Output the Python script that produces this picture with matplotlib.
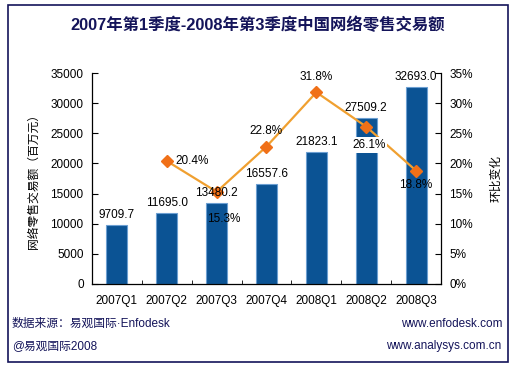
import matplotlib
matplotlib.use("Agg")
import matplotlib.pyplot as plt
from matplotlib.patches import Rectangle
from matplotlib.ticker import FuncFormatter

plt.rcParams['font.family'] = ['Liberation Sans', 'Noto Sans CJK SC', 'DejaVu Sans']

categories = ["2007Q1", "2007Q2", "2007Q3", "2007Q4", "2008Q1", "2008Q2", "2008Q3"]
sales = [9709.7, 11695.0, 13480.2, 16557.6, 21823.1, 27509.2, 32693.0]
growth_cats = ["2007Q2", "2007Q3", "2007Q4", "2008Q1", "2008Q2", "2008Q3"]
growth = [20.4, 15.3, 22.8, 31.8, 26.1, 18.8]
y_ticks = [0, 5000, 10000, 15000, 20000, 25000, 30000, 35000]
pct_ticks = [0, 5, 10, 15, 20, 25, 30, 35]

title = "2007年第1季度-2008年第3季度中国网络零售交易额"
ylabel_left = "网络零售交易额（百万元）"
ylabel_right = "环比变化"

navy = "#14145a"
bar_color = "#0B5394"
edge_color = "#6C9FD2"
line_color = "#F0A030"
marker_color = "#F07018"

W, H = 515, 372
fig = plt.figure(figsize=(W / 100, H / 100), dpi=100)

# outer frame
fig.patches.append(Rectangle((8 / W, 1 - 362 / H), 500 / W, 357 / H,
                             transform=fig.transFigure, fill=False,
                             edgecolor=navy, linewidth=1.2))

ax = fig.add_axes([92 / W, 1 - 284 / H, 349 / W, 211 / H])
x = list(range(len(categories)))
ax.bar(x, sales, width=0.42, color=bar_color, edgecolor=edge_color, linewidth=0.8, zorder=2)
ax.set_xlim(-0.5, len(categories) - 0.5)
ax.set_ylim(0, 35000)
ax.set_yticks(y_ticks)
ax.set_yticklabels([str(v) for v in y_ticks], fontsize=8.5)
ax.set_xticks(x)
ax.set_xticklabels(categories, fontsize=8.5)
ax.set_xticks([i + 0.5 for i in range(-1, len(categories))], minor=True)
ax.tick_params(axis='x', which='major', length=0, pad=8)
ax.tick_params(axis='x', which='minor', length=3, direction='in')
ax.tick_params(axis='y', direction='in', length=4, pad=6)
for s in ['top', 'right']:
    ax.spines[s].set_visible(False)
ax.spines['left'].set_linewidth(0.9)
ax.spines['bottom'].set_linewidth(0.9)
ax.set_ylabel(ylabel_left, fontsize=8.5, family=['Noto Sans CJK SC'], labelpad=8)

ax2 = ax.twinx()
ax2.set_ylim(0, 35)
ax2.set_yticks(pct_ticks)
ax2.yaxis.set_major_formatter(FuncFormatter(lambda v, p: f"{int(v)}%"))
ax2.tick_params(axis='y', direction='in', length=4, pad=6, labelsize=8.5)
for s in ['top', 'left', 'bottom']:
    ax2.spines[s].set_visible(False)
ax2.spines['right'].set_linewidth(0.9)
gx = [categories.index(c) for c in growth_cats]
ax2.plot(gx, growth, color=line_color, linewidth=1.6, zorder=3)
ax2.plot(gx, growth, linestyle='none', marker='D', markersize=6,
         color=marker_color, zorder=4)
ax2.set_ylabel(ylabel_right, fontsize=8.5, family=['Noto Sans CJK SC'], labelpad=12)

# value labels drawn on the top axes so they sit above the line
for xi, v in zip(x, sales):
    ax2.annotate(f"{v:.1f}", xy=(xi, v), xycoords=ax.transData, xytext=(0, 3),
                 textcoords='offset points', ha='center', va='bottom',
                 fontsize=8.5, zorder=6)

# percentage labels: (dx, dy) offsets in points, and whether a white box
offsets = [(6, 0, 'left', 'center', False),
           (5, -15, 'center', 'top', False),
           (0, 7, 'center', 'bottom', False),
           (0, 7, 'center', 'bottom', False),
           (2, -9, 'center', 'top', True),
           (0, -6, 'center', 'top', False)]
for xi, g, (dx, dy, ha, va, box) in zip(gx, growth, offsets):
    kw = {}
    if box:
        kw['bbox'] = dict(boxstyle='square,pad=0.15', facecolor='white', edgecolor='none')
    ax2.annotate(f"{g:.1f}%", (xi, g), xytext=(dx, dy), textcoords='offset points',
                 ha=ha, va=va, fontsize=8.5, zorder=6, **kw)

fig.text(0.5, 1 - 25 / H, title, ha='center', va='center', fontsize=11.8,
         fontweight='bold', color=navy, family=['Liberation Sans', 'Noto Sans CJK SC'])

fig.text(12 / W, 1 - 324 / H, "数据来源：易观国际·Enfodesk", ha='left', va='center',
         fontsize=8.5, color=navy, family=['Liberation Sans', 'Noto Sans CJK SC'])
fig.text(12 / W, 1 - 346 / H, "@易观国际2008", ha='left', va='center',
         fontsize=8.5, color=navy, family=['Liberation Sans', 'Noto Sans CJK SC'])
fig.text(503 / W, 1 - 324 / H, "www.enfodesk.com", ha='right', va='center',
         fontsize=8.5, color=navy)
fig.text(501 / W, 1 - 346 / H, "www.analysys.com.cn", ha='right', va='center',
         fontsize=8.5, color=navy)

fig.savefig("out.png", dpi=100)
